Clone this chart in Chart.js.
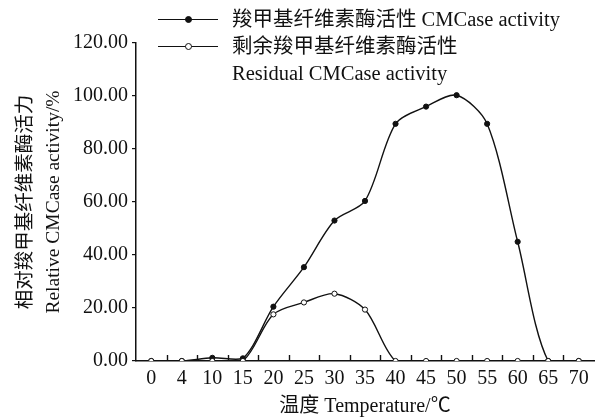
<!DOCTYPE html>
<html>
<head>
<meta charset="utf-8">
<script src="https://cdn.jsdelivr.net/npm/chart.js@4/dist/chart.umd.min.js"></script>
<style>
  html, body { margin:0; padding:0; background:#fff; }
  #wrap { position:relative; width:599px; height:419px; }
  #legend { position:absolute; left:158px; top:6px; font-family:'Liberation Serif','Noto Sans CJK SC',serif; font-size:20.5px; color:#111; }
  .row { position:relative; height:27px; line-height:27px; white-space:nowrap; }
  .ln { position:absolute; left:0; top:13px; width:60px; height:0; border-top:1.4px solid #111; }
  .mk { position:absolute; left:27px; top:10px; width:5px; height:5px; border-radius:50%; border:1px solid #111; box-sizing:content-box; }
  .mk.fill { background:#111; }
  .mk.open { background:#fff; }
  .tx { position:absolute; left:74px; top:0; }
</style>
</head>
<body>
<div id="wrap">
  <canvas id="c" width="599" height="419"></canvas>
  <div id="legend">
    <div class="row"><span class="ln"></span><span class="mk fill"></span><span class="tx">羧甲基纤维素酶活性 CMCase activity</span></div>
    <div class="row"><span class="ln"></span><span class="mk open"></span><span class="tx">剩余羧甲基纤维素酶活性</span></div>
    <div class="row"><span class="tx">Residual CMCase activity</span></div>
  </div>
</div>
<script>
// 温度 (°C) — categorias do eixo x
const temps = ['0','4','10','15','20','25','30','35','40','45','50','55','60','65','70'];
// atividade relativa (%)
const cmcase   = [0, 0, 1.2, 1, 20.5, 35.4, 53, 60.4, 89.5, 96, 100.3, 89.5, 45, 0, 0];
const residual = [0, 0, 0, 0, 17.6, 22.1, 25.4, 19.4, 0, 0, 0, 0, 0, 0, 0];

const FONT = "'Liberation Serif','Noto Sans CJK SC',serif";
const INK = '#111';

// marcas curtas para dentro, entre as categorias do eixo x
const innerTicks = {
  id: 'innerTicks',
  afterDraw(chart){
    const x = chart.scales.x, ctx = chart.ctx;
    const y0 = chart.chartArea.bottom;
    ctx.save();
    ctx.strokeStyle = INK; ctx.lineWidth = 1.4;
    for (let i = 0; i < temps.length - 1; i++) {
      const px = Math.round((x.getPixelForValue(i) + x.getPixelForValue(i+1)) / 2) + 0.5;
      ctx.beginPath(); ctx.moveTo(px, y0); ctx.lineTo(px, y0 - 6); ctx.stroke();
    }
    ctx.restore();
  }
};

new Chart(document.getElementById('c').getContext('2d'), {
  type: 'line',
  data: {
    labels: temps,
    datasets: [
      { label:'剩余羧甲基纤维素酶活性', data:residual, order:0, borderColor:INK, borderWidth:1.4,
        pointRadius:2.6, pointBackgroundColor:'#fff', pointBorderColor:INK, pointBorderWidth:1, tension:0.3, fill:false },
      { label:'羧甲基纤维素酶活性', data:cmcase, order:1, borderColor:INK, borderWidth:1.4,
        pointRadius:2.6, pointBackgroundColor:INK, pointBorderColor:INK, pointBorderWidth:1, tension:0.3, fill:false }
    ]
  },
  options: {
    responsive:false, animation:false, devicePixelRatio:1,
    layout:{ padding:{ top:43, right:0, bottom:0, left:0 } },
    plugins:{ legend:{ display:false }, tooltip:{ enabled:false } },
    scales:{
      x:{
        offset:true,
        grid:{ display:true, drawOnChartArea:false, drawTicks:false },
        border:{ color:INK, width:1.5 },
        ticks:{ color:INK, font:{ family:FONT, size:20 }, padding:6, maxRotation:0, autoSkip:false },
        title:{ display:true, text:'温度 Temperature/℃', color:INK, font:{ family:FONT, size:20 }, padding:{ top:0, bottom:0 } },
        afterFit(s){ s.height = 58; }
      },
      y:{
        min:0, max:120,
        grid:{ drawOnChartArea:false, drawTicks:true, tickLength:4, color:INK, lineWidth:1.2 },
        border:{ color:INK, width:1.5 },
        ticks:{ stepSize:20, color:INK, font:{ family:FONT, size:20 }, padding:4, callback:v => Number(v).toFixed(2) },
        title:{ display:true, text:['相对羧甲基纤维素酶活力','Relative CMCase activity/%'], color:INK,
                font:{ family:FONT, size:19.5, lineHeight:'28px' }, padding:{ top:12, bottom:0 } },
        afterFit(s){ s.width = 136; }
      }
    }
  },
  plugins:[innerTicks]
});
</script>
</body>
</html>
